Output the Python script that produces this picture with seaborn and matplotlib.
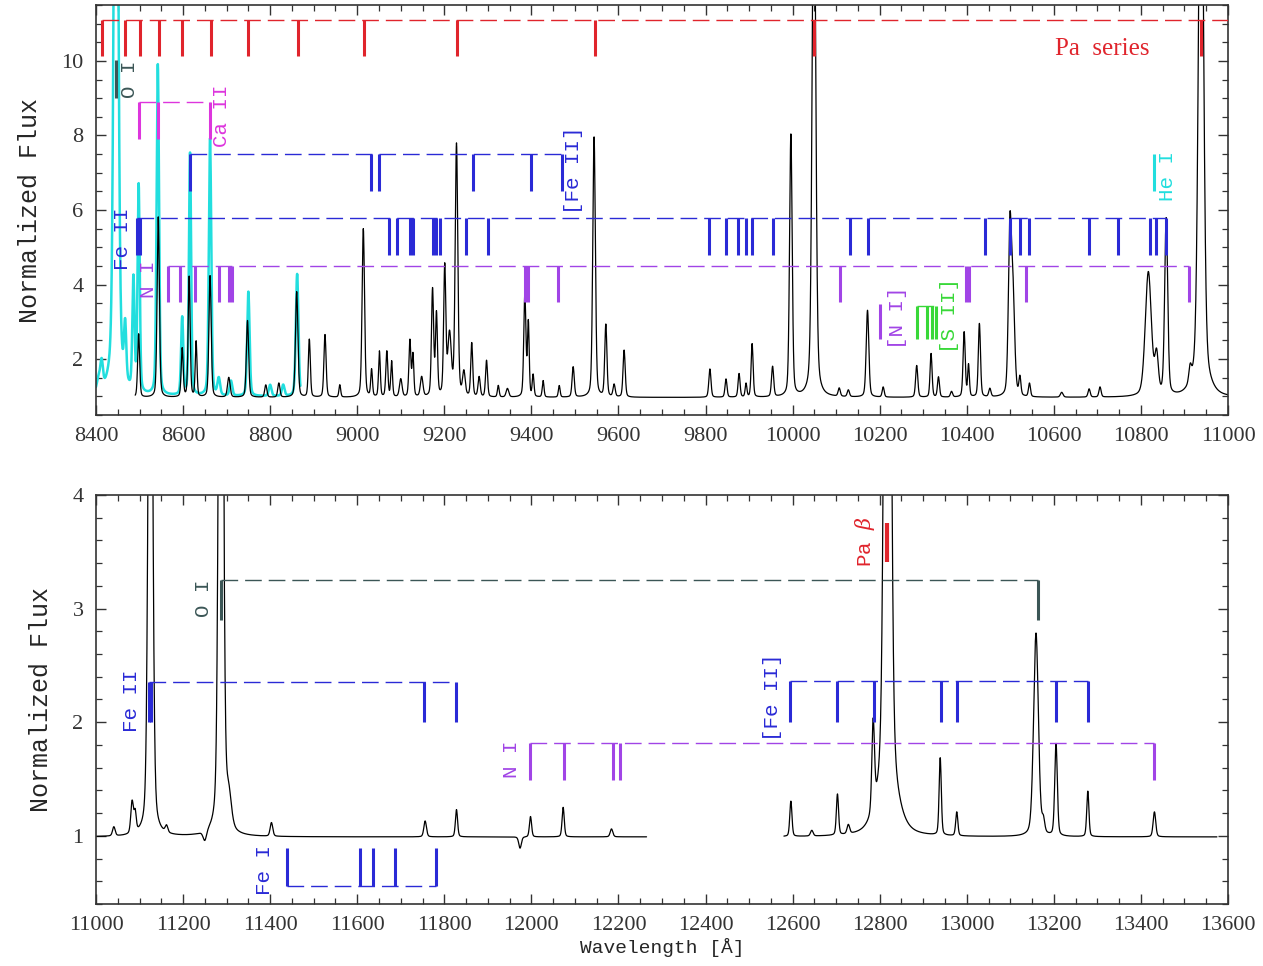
import numpy as np
import pandas as pd
import matplotlib
matplotlib.use("Agg")
import matplotlib.pyplot as plt
from matplotlib.ticker import MultipleLocator
import seaborn as sns

# Line list: centre (A), peak flux, width (A)
# --- upper panel, black spectrum
top_cont = 0.97
top_wl = [8498, 8543, 8598, 8614, 8630, 8662, 8705, 8748, 8790, 8820, 8861, 8890,
          8926, 8960, 9014, 9033, 9051, 9068, 9079, 9100, 9121, 9128, 9148, 9173,
          9182, 9201, 9212, 9228, 9245, 9263, 9280, 9297, 9324, 9345, 9385, 9393,
          9404, 9427, 9464, 9496, 9544, 9571, 9590, 9613, 9810, 9847, 9877, 9893,
          9907, 9954, 9996, 10049, 10049, 10107, 10128, 10172, 10208, 10285, 10318,
          10335, 10365, 10394, 10404, 10429, 10453, 10499, 10506, 10522, 10544,
          10618, 10681, 10706, 10817, 10836, 10858, 10913, 10938, 10938]
top_pk = [2.67, 5.81, 2.27, 4.2, 2.45, 4.23, 1.5, 3.03, 1.3, 1.35, 3.8, 2.52,
          2.65, 1.3, 5.49, 1.69, 2.19, 2.19, 1.92, 1.45, 2.48, 2.09, 1.5, 3.83,
          3.16, 4.42, 2.6, 7.73, 1.6, 2.4, 1.5, 1.95, 1.28, 1.2, 3.7, 2.94,
          1.55, 1.41, 1.28, 1.78, 7.95, 2.9, 1.3, 2.23, 1.73, 1.46, 1.6, 1.33,
          2.4, 1.78, 8.0, 16.0, 1.15, 1.19, 1.15, 3.3, 1.24, 1.82, 2.14,
          1.51, 1.12, 2.71, 1.82, 2.94, 1.19, 5.26, 3.6, 1.46, 1.33,
          1.1, 1.19, 1.24, 4.3, 2.0, 5.7, 1.38, 18.0, 1.4]
top_sig = [2.3, 2.6, 2.3, 2.3, 2.0, 2.6, 3.0, 2.6, 2.5, 2.5, 2.8, 2.3,
           2.5, 2.0, 2.8, 2.0, 2.0, 2.3, 2.0, 3.0, 2.3, 2.0, 3.0, 2.5,
           2.3, 2.5, 4.0, 3.0, 3.0, 2.3, 2.5, 2.3, 2.0, 3.0, 2.5, 2.0,
           2.0, 2.0, 2.0, 2.5, 3.0, 2.5, 2.5, 2.5, 2.5, 2.3, 2.3, 2.0,
           2.3, 2.5, 3.0, 4.0, 10.0, 2.5, 2.5, 3.0, 2.3, 2.5, 2.3,
           2.3, 2.5, 2.5, 2.0, 2.5, 2.5, 3.5, 4.0, 2.3, 2.3,
           3.0, 2.5, 2.5, 7.0, 4.0, 3.5, 3.0, 5.5, 18.0]

# --- upper panel, cyan (second epoch) spectrum
cyan_cont = 1.0
cyan_wl = [8406, 8413, 8446, 8446, 8467, 8486, 8498, 8542, 8598, 8616, 8662,
           8682, 8710, 8750, 8800, 8830, 8862]
cyan_pk = [1.35, 1.7, 24.0, 1.5, 2.45, 4.0, 6.56, 9.87, 3.07, 7.5, 7.9,
           1.45, 1.4, 3.8, 1.3, 1.3, 4.28]
cyan_sig = [4.0, 3.0, 4.5, 15.0, 2.5, 2.5, 2.5, 2.8, 2.5, 2.5, 2.8,
            3.0, 3.0, 2.8, 3.0, 3.0, 3.0]

# --- lower panel, black spectrum
bot_cont = 0.99
bot_wl = [11041, 11083, 11090, 11125, 11162, 11250, 11287, 11305, 11403, 11756,
          11828, 11974, 11998, 12073, 12184, 12596, 12644, 12703, 12728, 12785,
          12818, 12818, 12939, 12977, 13159, 13176, 13205, 13278, 13431]
bot_pk = [1.07, 1.27, 1.16, 8.0, 1.05, 0.9, 10.0, 1.25, 1.11, 1.13,
          1.23, 0.89, 1.17, 1.25, 1.06, 1.3, 1.04, 1.35, 1.07, 1.77,
          12.0, 1.35, 1.67, 1.2, 2.78, 1.1, 1.8, 1.39, 1.21]
bot_sig = [3.0, 3.0, 2.5, 4.5, 3.0, 4.0, 4.5, 6.0, 3.0, 3.0,
           2.5, 3.0, 2.5, 2.5, 3.0, 2.5, 3.0, 2.5, 3.0, 3.0,
           6.0, 22.0, 2.5, 2.5, 5.5, 3.0, 3.0, 2.5, 3.0]
bot_segments = [(11000, 12265), (12580, 13575)]

# --- line identifications, upper panel
pa_series = [8413, 8467, 8502, 8545, 8598, 8665, 8750, 8863, 9015, 9229, 9546, 10049, 10938]
oi_8446 = [8446]
ca_ii = [8498, 8542, 8662]
fe_ii_upper = [8616, 9032, 9051, 9265, 9399, 9470]
fe_ii_lower = [8494, 8500, 9074, 9092, 9121, 9129, 9175, 9182, 9190, 9250, 9301, 9809,
               9846, 9875, 9892, 9907, 9956, 10132, 10172, 10442, 10499, 10522, 10543,
               10681, 10747, 10821, 10835, 10858]
n_i_upper = [8566, 8593, 8627, 8683, 8705, 8712, 9386, 9392, 9460, 10108, 10398, 10405,
             10537, 10910]
n_i_forb = [10200]
s_ii_forb = [10285, 10308, 10319, 10329]
he_i = [10830]

# --- line identifications, lower panel
oi_lower = [11287, 13164]
fe_ii_bot = [11122, 11126, 11753, 11828]
fe_ii_forb_bot = [12594, 12703, 12788, 12941, 12977, 13205, 13278]
n_i_bot = [11997, 12074, 12187, 12204, 13430]
fe_i = [11439, 11606, 11637, 11687, 11780]
pa_beta = [12817]

RED = "#e0242c"
BLUE = "#2a2ad6"
PURPLE = "#a144e6"
MAGENTA = "#dd35dd"
CYAN = "#22dede"
GREEN = "#38d838"
SLATE = "#3b5656"


def spectrum(grid, cont, wl, pk, sig, eta=0.3):
    # pseudo-Voigt profiles on a flat continuum
    flux = np.full_like(grid, cont)
    for c, p, s in zip(wl, pk, sig):
        d = (grid - c) / s
        prof = (1 - eta) * np.exp(-0.5 * d ** 2) + eta / (1 + (d / 1.177) ** 2)
        flux += (p - cont) * prof
    return flux


def mark_group(ax, wl, y_line, y_end, color, x_end=None, lw=2.2):
    ax.vlines(wl, y_end, y_line, colors=color, lw=lw, zorder=4)
    right = max(wl) if x_end is None else x_end
    if right > min(wl):
        ax.hlines(y_line, min(wl), right, colors=color, lw=1.0,
                  linestyles=(0, (12, 5)), zorder=4)


def label(ax, x, y, text, color, size=15, rot=90, family="Liberation Mono"):
    ax.text(x, y, text, color=color, fontsize=size, rotation=rot, ha="center",
            va="center", family=family, zorder=5)


sns.set_theme(style="ticks")
plt.rcParams.update({
    "xtick.direction": "in", "ytick.direction": "in",
    "xtick.top": True, "ytick.right": True,
    "xtick.major.size": 7, "ytick.major.size": 7,
    "xtick.minor.size": 4, "ytick.minor.size": 4,
    "xtick.major.width": 1.0, "ytick.major.width": 1.0,
    "xtick.minor.width": 0.9, "ytick.minor.width": 0.9,
    "xtick.color": "#333333", "ytick.color": "#333333",
    "axes.edgecolor": "#333333", "axes.linewidth": 1.2,
    "mathtext.fontset": "dejavuserif",
})
plt.rcParams["font.family"] = ["Liberation Serif", "DejaVu Serif"]

fig = plt.figure(figsize=(12.63, 9.66), dpi=100)
ax1 = fig.add_axes([0.076, 0.5704, 0.8963, 0.4244])
ax2 = fig.add_axes([0.076, 0.0642, 0.8963, 0.4234])

# ---------------- upper panel
grid_c = np.arange(8400, 8870, 0.5)
df_c = pd.DataFrame({"wl": grid_c, "flux": spectrum(grid_c, cyan_cont, cyan_wl, cyan_pk, cyan_sig)})
sns.lineplot(data=df_c, x="wl", y="flux", ax=ax1, color=CYAN, lw=1.8, estimator=None, sort=False)

grid_t = np.arange(8490, 11000, 0.5)
df_t = pd.DataFrame({"wl": grid_t, "flux": spectrum(grid_t, top_cont, top_wl, top_pk, top_sig)})
sns.lineplot(data=df_t, x="wl", y="flux", ax=ax1, color="black", lw=0.9, estimator=None, sort=False)

mark_group(ax1, pa_series, 11.1, 10.13, RED, x_end=11000)
mark_group(ax1, oi_8446, 10.03, 9.0, SLATE)
mark_group(ax1, ca_ii, 8.9, 7.9, MAGENTA)
mark_group(ax1, fe_ii_upper, 7.5, 6.51, BLUE)
mark_group(ax1, fe_ii_lower, 5.79, 4.8, BLUE)
mark_group(ax1, n_i_upper, 4.5, 3.53, PURPLE)
mark_group(ax1, n_i_forb, 3.48, 2.54, PURPLE)
mark_group(ax1, s_ii_forb, 3.43, 2.54, GREEN)
mark_group(ax1, he_i, 7.5, 6.52, CYAN)

label(ax1, 8478, 9.52, "O I", SLATE)
label(ax1, 8689, 8.52, "Ca II", MAGENTA)
label(ax1, 9496, 7.07, "[Fe II]", BLUE)
label(ax1, 8462, 5.22, "Fe II", BLUE)
label(ax1, 8520, 4.15, "N I", PURPLE)
label(ax1, 10242, 3.1, "[N I]", PURPLE)
label(ax1, 10361, 3.16, "[S II]", GREEN)
label(ax1, 10860, 6.9, "He I", CYAN)
label(ax1, 10710, 10.32, "Pa  series", RED, size=18, rot=0, family="Liberation Serif")

ax1.set_xlim(8400, 11000)
ax1.set_ylim(0.5, 11.5)
ax1.xaxis.set_major_locator(MultipleLocator(200))
ax1.xaxis.set_minor_locator(MultipleLocator(50))
ax1.yaxis.set_major_locator(MultipleLocator(2))
ax1.yaxis.set_minor_locator(MultipleLocator(0.5))

# ---------------- lower panel
frames = []
for i, (lo, hi) in enumerate(bot_segments):
    g = np.arange(lo, hi, 0.5)
    frames.append(pd.DataFrame({"wl": g, "flux": spectrum(g, bot_cont, bot_wl, bot_pk, bot_sig), "seg": i}))
df_b = pd.concat(frames, ignore_index=True)
sns.lineplot(data=df_b, x="wl", y="flux", units="seg", ax=ax2, color="black", lw=0.9,
             estimator=None, sort=False)

mark_group(ax2, oi_lower, 3.25, 2.9, SLATE)
mark_group(ax2, fe_ii_bot, 2.35, 2.0, BLUE)
mark_group(ax2, fe_ii_forb_bot, 2.36, 2.0, BLUE)
mark_group(ax2, n_i_bot, 1.82, 1.49, PURPLE)
mark_group(ax2, fe_i, 0.556, 0.89, BLUE)
mark_group(ax2, pa_beta, 3.75, 3.41, RED, lw=3)

label(ax2, 11246, 3.09, "O I", SLATE)
label(ax2, 11082, 2.19, "Fe II", BLUE)
label(ax2, 12554, 2.22, "[Fe II]", BLUE)
label(ax2, 11955, 1.67, "N I", PURPLE)
label(ax2, 11388, 0.70, "Fe I", BLUE)
label(ax2, 12766, 3.59, r"Pa $\beta$", RED)

ax2.set_xlim(11000, 13600)
ax2.set_ylim(0.4, 4.0)
ax2.xaxis.set_major_locator(MultipleLocator(200))
ax2.xaxis.set_minor_locator(MultipleLocator(50))
ax2.yaxis.set_major_locator(MultipleLocator(1))
ax2.yaxis.set_minor_locator(MultipleLocator(0.2))

for ax in (ax1, ax2):
    ax.tick_params(which="both", labelsize=16, pad=9)
    ax.set_ylabel("Normalized Flux", fontsize=18, family="Liberation Mono", labelpad=14)
    ax.set_xlabel("")
ax2.set_xlabel("Wavelength [Å]", fontsize=14, family="Liberation Mono", labelpad=2)

fig.savefig("out.png", dpi=100)
